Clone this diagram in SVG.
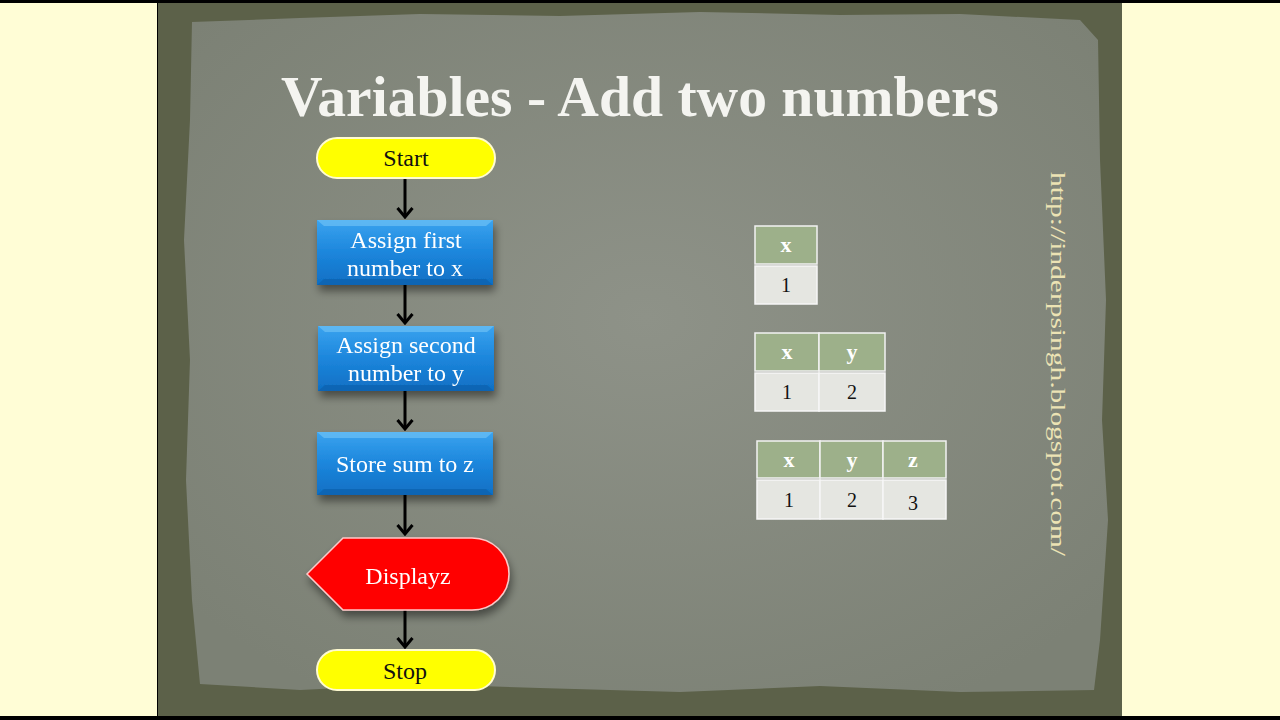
<svg xmlns="http://www.w3.org/2000/svg" width="1280" height="720" viewBox="0 0 1280 720">
<defs>
<style>
.lbl{font-family:"Liberation Serif","DejaVu Serif",serif;font-size:24px;text-anchor:middle;}
.w{fill:#ffffff;}
.k{fill:#111111;}
.conn line{stroke:#000;stroke-width:3;}
.hdr{fill:#9db08a;stroke:#f2f2f2;stroke-width:1.5;}
.cell{fill:#e5e6e1;stroke:#f6f6f6;stroke-width:1.5;}
.th{font-family:"Liberation Serif",serif;font-size:22px;font-weight:bold;fill:#fff;text-anchor:middle;}
.td{font-family:"Liberation Serif",serif;font-size:20px;fill:#111;text-anchor:middle;}
.pill{fill:#ffff00;stroke:#fffbd0;stroke-width:2;}
</style>
<linearGradient id="blue" x1="0" y1="0" x2="0" y2="1">
<stop offset="0" stop-color="#3aa3ef"/>
<stop offset="0.5" stop-color="#1c86dc"/>
<stop offset="1" stop-color="#0f6fc4"/>
</linearGradient>
<radialGradient id="bg" cx="0.5" cy="0.45" r="0.65">
<stop offset="0" stop-color="#8e9288"/>
<stop offset="1" stop-color="#7c8175"/>
</radialGradient>
<filter id="sh" x="-20%" y="-20%" width="140%" height="160%">
<feGaussianBlur in="SourceAlpha" stdDeviation="4"/>
<feOffset dx="2" dy="6" result="b"/>
<feComponentTransfer><feFuncA type="linear" slope="0.45"/></feComponentTransfer>
<feMerge><feMergeNode/><feMergeNode in="SourceGraphic"/></feMerge>
</filter>
<marker id="ah" viewBox="0 0 14 18" refX="12" refY="9" markerWidth="14" markerHeight="18" markerUnits="userSpaceOnUse" orient="auto">
<path d="M3,1.5 L12,9 L3,16.5" fill="none" stroke="#000" stroke-width="3"/>
</marker>
</defs>

<rect x="0" y="0" width="1280" height="720" fill="#000"/>
<rect x="0" y="3" width="157" height="713" fill="#fffdd6"/>
<rect x="1122" y="3" width="158" height="713" fill="#fffdd6"/>
<rect x="158" y="3" width="964" height="713" fill="#5c6149"/>
<path d="M192,22 L300,18 L420,14 L560,16 L700,12 L840,15 L960,14 L1080,20 L1098,40 L1100,160 L1106,300 L1102,420 L1108,520 L1100,640 L1094,690 L960,692 L820,686 L680,692 L540,688 L420,684 L300,690 L200,684 L192,600 L186,480 L190,360 L184,240 L190,120 Z" fill="url(#bg)"/>

<text x="640" y="116" font-family="'Liberation Serif','DejaVu Serif',serif" font-size="56" font-weight="bold" fill="#f4f4f0" text-anchor="middle" textLength="718" lengthAdjust="spacingAndGlyphs">Variables - Add two numbers</text>

<g class="conn">
<line x1="405" y1="178" x2="405" y2="217" marker-end="url(#ah)"/>
<line x1="405" y1="285" x2="405" y2="323" marker-end="url(#ah)"/>
<line x1="405" y1="391" x2="405" y2="429" marker-end="url(#ah)"/>
<line x1="405" y1="495" x2="405" y2="534" marker-end="url(#ah)"/>
<line x1="405" y1="610" x2="405" y2="647" marker-end="url(#ah)"/>
</g>

<g id="start">
<rect class="pill" x="317" y="138" width="178" height="40" rx="20"/>
<text class="lbl k" x="406" y="166">Start</text>
</g>

<g id="assign-x" filter="url(#sh)">
<rect x="317" y="220" width="176" height="65" fill="url(#blue)"/>
<path d="M317,220 L493,220 L486,226 L324,226 Z" fill="#6cc0f5" opacity="0.7"/>
<path d="M317,285 L493,285 L486,279 L324,279 Z" fill="#0a5ea8" opacity="0.6"/>
<text class="lbl w" x="406" y="248">Assign first</text>
<text class="lbl w" x="405" y="276">number to x</text>
</g>

<g id="assign-y" filter="url(#sh)">
<rect x="318" y="326" width="176" height="65" fill="url(#blue)"/>
<path d="M318,326 L494,326 L487,332 L325,332 Z" fill="#6cc0f5" opacity="0.7"/>
<path d="M318,391 L494,391 L487,385 L325,385 Z" fill="#0a5ea8" opacity="0.6"/>
<text class="lbl w" x="406" y="353">Assign second</text>
<text class="lbl w" x="406" y="381">number to y</text>
</g>

<g id="store-z" filter="url(#sh)">
<rect x="317" y="432" width="176" height="63" fill="url(#blue)"/>
<path d="M317,432 L493,432 L486,438 L324,438 Z" fill="#6cc0f5" opacity="0.7"/>
<path d="M317,495 L493,495 L486,489 L324,489 Z" fill="#0a5ea8" opacity="0.6"/>
<text class="lbl w" x="405" y="472">Store sum to z</text>
</g>

<g id="display-z" filter="url(#sh)">
<path d="M307,574 L343,538 L472,538 A37,36 0 0 1 472,610 L343,610 Z" fill="#ff0000" stroke="#ffc8c8" stroke-width="1.5"/>
<text class="lbl w" x="408" y="584">Displayz</text>
</g>

<g id="stop">
<rect class="pill" x="317" y="650" width="178" height="40" rx="20"/>
<text class="lbl k" x="405" y="679">Stop</text>
</g>

<g id="table1">
<rect class="hdr" x="755" y="226" width="62" height="38"/>
<rect class="cell" x="755" y="266" width="62" height="38"/>
<text class="th" x="786" y="252">x</text>
<text class="td" x="786" y="292">1</text>
</g>

<g id="table2">
<rect class="hdr" x="755" y="333" width="64" height="38"/>
<rect class="hdr" x="819" y="333" width="66" height="38"/>
<rect class="cell" x="755" y="373" width="64" height="38"/>
<rect class="cell" x="819" y="373" width="66" height="38"/>
<text class="th" x="787" y="359">x</text>
<text class="th" x="852" y="359">y</text>
<text class="td" x="787" y="399">1</text>
<text class="td" x="852" y="399">2</text>
</g>

<g id="table3">
<rect class="hdr" x="757" y="441" width="63" height="37"/>
<rect class="hdr" x="820" y="441" width="63" height="37"/>
<rect class="hdr" x="883" y="441" width="63" height="37"/>
<rect class="cell" x="757" y="480" width="63" height="39"/>
<rect class="cell" x="820" y="480" width="63" height="39"/>
<rect class="cell" x="883" y="480" width="63" height="39"/>
<text class="th" x="789" y="467">x</text>
<text class="th" x="852" y="467">y</text>
<text class="th" x="913" y="467">z</text>
<text class="td" x="789" y="507">1</text>
<text class="td" x="852" y="507">2</text>
<text class="td" x="913" y="510" font-size="23">3</text>
</g>

<text transform="translate(1051,172) rotate(90)" font-family="'Liberation Serif',serif" font-size="22" fill="#ece3b4" textLength="384" lengthAdjust="spacingAndGlyphs">http://inderpsingh.blogspot.com/</text>
</svg>
